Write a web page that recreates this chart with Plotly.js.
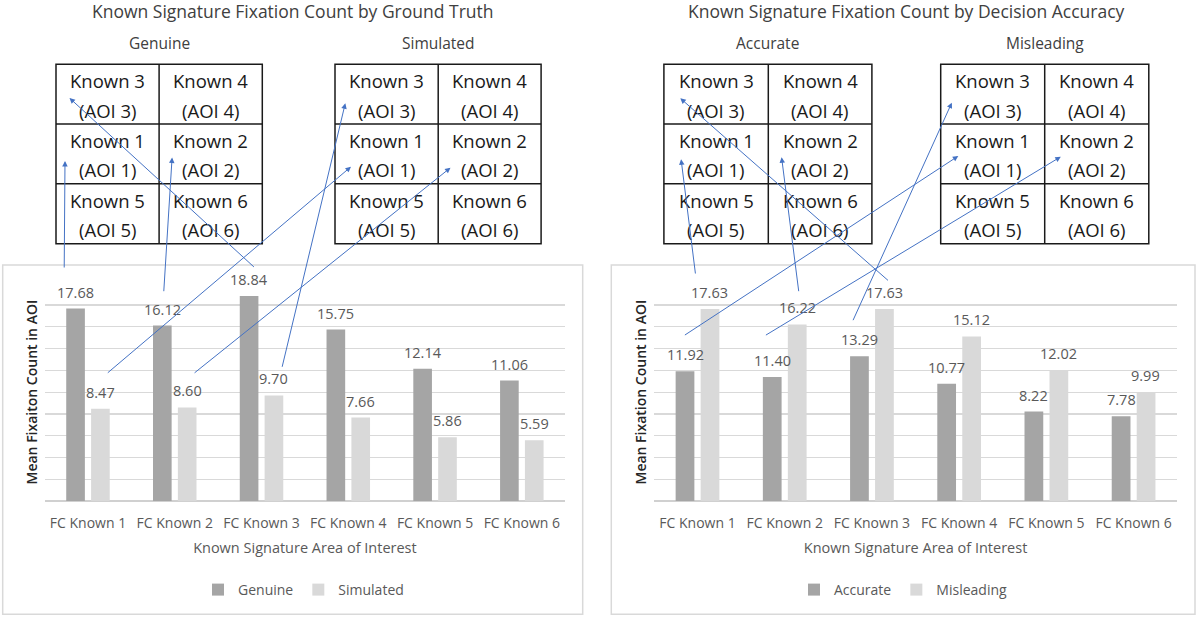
<!DOCTYPE html>
<html>
<head>
<meta charset="utf-8">
<script src="https://cdn.plot.ly/plotly-3.0.1.min.js"></script>
<style>
html,body{margin:0;padding:0;background:#fff;}
#chart{width:1200px;height:618px;}
</style>
</head>
<body>
<div id="chart"></div>
<script>
// ---------------- data ----------------
var categories = ['FC Known 1', 'FC Known 2', 'FC Known 3', 'FC Known 4', 'FC Known 5', 'FC Known 6'];
var genuine    = [17.68, 16.12, 18.84, 15.75, 12.14, 11.06];
var simulated  = [8.47, 8.60, 9.70, 7.66, 5.86, 5.59];
var accurate   = [11.92, 11.40, 13.29, 10.77, 8.22, 7.78];
var misleading = [17.63, 16.22, 17.63, 15.12, 12.02, 9.99];

var leftTitle   = 'Known Signature Fixation Count by Ground Truth';
var rightTitle  = 'Known Signature Fixation Count by Decision Accuracy';
var xTitle      = 'Known Signature Area of Interest';
var leftYTitle  = 'Mean Fixaiton Count in AOI';
var rightYTitle = 'Mean Fixation Count in AOI';
var gridNames   = ['Genuine', 'Simulated', 'Accurate', 'Misleading'];
// AOI layout of the signature grid (rows top to bottom, columns left to right)
var aoiRows = [[3, 4], [1, 2], [5, 6]];

// ---------------- layout helpers ----------------
var W = 1200, H = 618;
function px(x) { return x / W; }
function py(y) { return 1 - y / H; }

var FONT = '"Open Sans", "DejaVu Sans", sans-serif';
var DARK = '#A5A5A5', LIGHT = '#D9D9D9', ARROW = '#4472C4';

var traces = [
  {type: 'bar', name: 'Genuine', x: categories, y: genuine, xaxis: 'x', yaxis: 'y',
   marker: {color: DARK}, legend: 'legend', hoverinfo: 'x+y'},
  {type: 'bar', name: 'Simulated', x: categories, y: simulated, xaxis: 'x', yaxis: 'y',
   marker: {color: LIGHT}, legend: 'legend', hoverinfo: 'x+y'},
  {type: 'bar', name: 'Accurate', x: categories, y: accurate, xaxis: 'x2', yaxis: 'y2',
   marker: {color: DARK}, legend: 'legend2', hoverinfo: 'x+y'},
  {type: 'bar', name: 'Misleading', x: categories, y: misleading, xaxis: 'x2', yaxis: 'y2',
   marker: {color: LIGHT}, legend: 'legend2', hoverinfo: 'x+y'}
];

var yDomain = [py(501), py(283.3)];

function xAxis(domain, anchor) {
  return {
    domain: domain, anchor: anchor, type: 'category',
    showgrid: false, showline: false, zeroline: false, ticks: '',
    ticklabelstandoff: 12,
    tickfont: {family: FONT, size: 14, color: '#595959'},
    title: {text: xTitle, font: {family: FONT, size: 14.5, color: '#595959'}, standoff: 11},
    automargin: false, fixedrange: true
  };
}
function yAxis(anchor, title) {
  return {
    domain: yDomain, anchor: anchor, range: [0, 20], dtick: 2,
    showticklabels: false, ticks: '',
    showgrid: true, gridcolor: '#D9D9D9', gridwidth: 1.3,
    zeroline: true, zerolinecolor: '#D0D0D0', zerolinewidth: 1.3,
    title: {text: title, font: {family: FONT, size: 14, color: '#262626', weight: 600}, standoff: 2},
    automargin: false, fixedrange: true
  };
}

var annotations = [];
var shapes = [];

// panel frames
shapes.push({type: 'rect', xref: 'paper', yref: 'paper', x0: px(2.7), x1: px(582.7), y0: py(614.3), y1: py(265),
  line: {color: '#D9D9D9', width: 1.5}, layer: 'below'});
shapes.push({type: 'rect', xref: 'paper', yref: 'paper', x0: px(611.3), x1: px(1195), y0: py(614.3), y1: py(265),
  line: {color: '#D9D9D9', width: 1.5}, layer: 'below'});

// panel titles
annotations.push({text: leftTitle, xref: 'paper', yref: 'paper', x: px(292.5), y: py(11), showarrow: false,
  xanchor: 'center', yanchor: 'middle', font: {family: FONT, size: 17.5, color: '#404040'}});
annotations.push({text: rightTitle, xref: 'paper', yref: 'paper', x: px(906.3), y: py(11), showarrow: false,
  xanchor: 'center', yanchor: 'middle', font: {family: FONT, size: 17.5, color: '#404040'}});

// signature AOI grids
var gridX = [[56, 159.1, 262.3], [335, 438.2, 541.1], [663.9, 768.3, 871.9], [940.7, 1044.7, 1148.8]];
var gridY = [64.3, 124, 183.7, 243.7];
gridX.forEach(function (gx, gi) {
  // subtitle
  annotations.push({text: gridNames[gi], xref: 'paper', yref: 'paper', x: px((gx[0] + gx[2]) / 2), y: py(42.5),
    showarrow: false, xanchor: 'center', yanchor: 'middle', font: {family: FONT, size: 15.5, color: '#404040'}});
  // frame
  shapes.push({type: 'rect', xref: 'paper', yref: 'paper', x0: px(gx[0]), x1: px(gx[2]), y0: py(gridY[3]), y1: py(gridY[0]),
    line: {color: '#1a1a1a', width: 1.5}});
  shapes.push({type: 'line', xref: 'paper', yref: 'paper', x0: px(gx[1]), x1: px(gx[1]), y0: py(gridY[3]), y1: py(gridY[0]),
    line: {color: '#1a1a1a', width: 1.5}});
  for (var r = 1; r < 3; r++) {
    shapes.push({type: 'line', xref: 'paper', yref: 'paper', x0: px(gx[0]), x1: px(gx[2]), y0: py(gridY[r]), y1: py(gridY[r]),
      line: {color: '#1a1a1a', width: 1.5}});
  }
  aoiRows.forEach(function (row, ri) {
    row.forEach(function (k, ci) {
      var cx = (gx[ci] + gx[ci + 1]) / 2;
      annotations.push({text: 'Known ' + k, xref: 'paper', yref: 'paper', x: px(cx), y: py(gridY[ri] + 16.5),
        showarrow: false, xanchor: 'center', yanchor: 'middle', font: {family: FONT, size: 18.5, color: '#1a1a1a'}});
      annotations.push({text: '(AOI ' + k + ')', xref: 'paper', yref: 'paper', x: px(cx), y: py(gridY[ri] + 46),
        showarrow: false, xanchor: 'center', yanchor: 'middle', font: {family: FONT, size: 18.5, color: '#1a1a1a'}});
    });
  });
});

// data labels above bars
function addLabels(vals, xref, yref, shift) {
  vals.forEach(function (v, i) {
    annotations.push({text: v.toFixed(2), x: categories[i], y: v, xref: xref, yref: yref,
      xshift: shift, yshift: 16.5, showarrow: false, xanchor: 'center', yanchor: 'middle',
      font: {family: FONT, size: 14.5, color: '#595959'}});
  });
}
addLabels(genuine, 'x', 'y', -12.4);
addLabels(simulated, 'x', 'y', 12.4);
addLabels(accurate, 'x2', 'y2', -12.4);
addLabels(misleading, 'x2', 'y2', 12.4);

// arrows: [startX, startY, headX, headY] in page pixels
var arrows = [
  [64.2, 269, 65, 161], [163.7, 292.7, 172.1, 157.5], [255.4, 268.3, 69.5, 98],
  [106.3, 374, 351, 166.7], [193.1, 374, 450.5, 167.7], [281.8, 368.3, 345.3, 103.3],
  [695.6, 275, 681.1, 159.3], [798.9, 292.7, 781.6, 157.3], [889.5, 281.7, 680.3, 98.3],
  [683.4, 336, 958.3, 156], [764.4, 336, 1060.8, 156.7], [852.4, 321.7, 951.8, 102.7]
];
arrows.forEach(function (a) {
  annotations.push({text: '', xref: 'paper', yref: 'paper', x: px(a[2]), y: py(a[3]),
    ax: a[0] - a[2], ay: a[1] - a[3], showarrow: true, arrowhead: 2, arrowsize: 1.1, arrowwidth: 1,
    arrowcolor: ARROW, standoff: 0, startstandoff: 0});
});

var legendFont = {family: FONT, size: 14, color: '#595959'};
var layout = {
  width: W, height: H,
  margin: {l: 0, r: 0, t: 0, b: 0},
  paper_bgcolor: '#ffffff', plot_bgcolor: 'rgba(0,0,0,0)',
  barmode: 'group', bargap: 0.427, bargroupgap: 0.25,
  font: {family: FONT, color: '#595959'},
  xaxis: xAxis([px(44.6), px(565.2)], 'y'),
  yaxis: yAxis('x', leftYTitle),
  xaxis2: xAxis([px(653.9), px(1177.2)], 'y2'),
  yaxis2: yAxis('x2', rightYTitle),
  legend: {orientation: 'h', x: px(198), y: py(590), xanchor: 'left', yanchor: 'middle',
    font: legendFont, bgcolor: 'rgba(0,0,0,0)'},
  legend2: {orientation: 'h', x: px(794), y: py(590), xanchor: 'left', yanchor: 'middle',
    font: legendFont, bgcolor: 'rgba(0,0,0,0)'},
  showlegend: true,
  shapes: shapes,
  annotations: annotations
};

Plotly.newPlot('chart', traces, layout, {displayModeBar: false, staticPlot: true});
</script>
</body>
</html>
